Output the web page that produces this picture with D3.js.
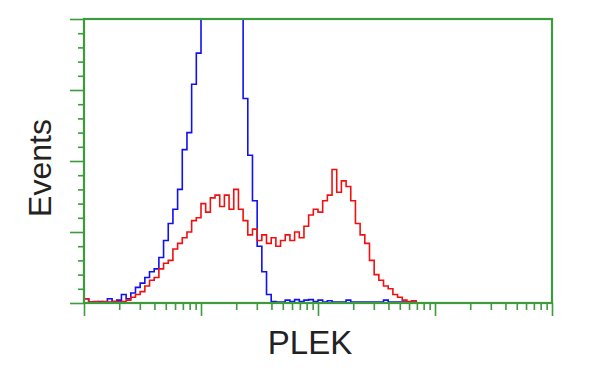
<!DOCTYPE html>
<html>
<head>
<meta charset="utf-8">
<script src="https://cdn.jsdelivr.net/npm/d3@7"></script>
<style>
  body { margin: 0; background: #fff; }
  svg { display: block; }
</style>
</head>
<body>
<div id="chart"></div>
<script>
// channel positions (log10 of fluorescence intensity)
var channels = [0.00, 0.04, 0.08, 0.12, 0.16, 0.20, 0.24, 0.28, 0.32, 0.36, 0.40, 0.44, 0.48, 0.52, 0.56, 0.60,
    0.64, 0.68, 0.72, 0.76, 0.80, 0.84, 0.88, 0.92, 0.96, 1.00, 1.04, 1.08, 1.12, 1.16, 1.20, 1.24,
    1.28, 1.32, 1.36, 1.40, 1.44, 1.48, 1.52, 1.56, 1.60, 1.64, 1.68, 1.72, 1.76, 1.80, 1.84, 1.88,
    1.92, 1.96, 2.00, 2.04, 2.08, 2.12, 2.16, 2.20, 2.24, 2.28, 2.32, 2.36, 2.40, 2.44, 2.48, 2.52,
    2.56, 2.60, 2.64, 2.68, 2.72, 2.76, 2.80, 2.84];

// isotype control (blue)
var controlCounts = [1.5, 0.3, 0.3, 0.5, 0.3, 1.5, 0.5, 1, 3, 1.5, 3.5, 5.5, 7, 9, 11, 12,
    16, 22, 28, 33, 40, 54, 60, 77, 88, 100, 115, 125, 130, 128, 122, 112,
    106, 101, 72, 52, 36, 20, 11, 3, 0.5, 0.3, 0.3, 1, 0.5, 1.2, 0.5, 1,
    1.2, 0.5, 1, 0.3, 0.8, 0.3, 0.3, 0.3, 1, 0.3, 0.3, 0.3, 0.3, 0.3, 0.3, 0.3,
    1, 0.3, 0.3, 0.3, 0.3, 0.3, 0.3, 0.3];

// PLEK stained (red)
var plekCounts = [1.5, 0.3, 0.5, 0.3, 0.5, 0.3, 0.5, 0.5, 0.5, 1, 2, 3, 4, 6, 8, 9,
    12, 14, 15, 19, 21, 23, 25, 29, 30, 35, 32, 37, 38, 34, 38, 33,
    40, 33, 29, 24, 26, 22, 24, 21, 23, 20, 22, 24, 22, 25, 23, 27,
    31, 33, 32, 36, 38, 47, 39, 43, 41, 36, 28, 24, 21, 15, 10, 8,
    6, 5, 3, 2, 1, 0.5, 0.8, 0];

var xDomain = [1, 10000];
var yDomain = [0, 100];
var xLabel = "PLEK";
var yLabel = "Events";

var width = 600, height = 375;
var margin = {top: 19, right: 48, bottom: 72, left: 84};
var green = "#3d9a3d";

var svg = d3.select("#chart").append("svg")
    .attr("width", width)
    .attr("height", height);

var x = d3.scaleLog()
    .domain(xDomain)
    .range([margin.left, width - margin.right]);

var y = d3.scaleLinear()
    .domain(yDomain)
    .range([height - margin.bottom, margin.top]);

// tick sets
var xMajor = [1, 10, 100, 1000, 10000];
var xMinor = [];
xMajor.slice(0, 4).forEach(function(d) {
    for (var k = 2; k < 10; k++) xMinor.push(d * k);
});
var yMajor = d3.range(0, 101, 25);
var yMinor = d3.range(0, 101, 5).filter(function(d) { return d % 25 !== 0; });

function styleAxis(g) {
    g.select(".domain").remove();
    g.selectAll(".tick line").attr("stroke", green).attr("stroke-width", 1.6);
}

// x axis ticks
svg.append("g")
    .attr("transform", "translate(0," + y(0) + ")")
    .call(d3.axisBottom(x).tickValues(xMinor).tickSize(7).tickFormat(""))
    .call(styleAxis);
svg.append("g")
    .attr("transform", "translate(0," + y(0) + ")")
    .call(d3.axisBottom(x).tickValues(xMajor).tickSize(13).tickFormat(""))
    .call(styleAxis);

// y axis ticks
svg.append("g")
    .attr("transform", "translate(" + x(1) + ",0)")
    .call(d3.axisLeft(y).tickValues(yMinor).tickSize(6).tickFormat(""))
    .call(styleAxis);
svg.append("g")
    .attr("transform", "translate(" + x(1) + ",0)")
    .call(d3.axisLeft(y).tickValues(yMajor).tickSize(14).tickFormat(""))
    .call(styleAxis);

// clip for histograms
svg.append("clipPath")
    .attr("id", "plotClip")
    .append("rect")
    .attr("x", x(1))
    .attr("y", y(100))
    .attr("width", x(10000) - x(1))
    .attr("height", y(0) - y(100));

var line = d3.line()
    .x(function(d) { return x(Math.pow(10, d[0])); })
    .y(function(d) { return y(d[1]); })
    .curve(d3.curveStepAfter);

var series = [
    {counts: controlCounts, color: "#1010f0"},
    {counts: plekCounts, color: "#f01010"}
];

series.forEach(function(s) {
    svg.append("path")
        .datum(channels.map(function(c, i) { return [c, s.counts[i]]; }))
        .attr("clip-path", "url(#plotClip)")
        .attr("fill", "none")
        .attr("stroke", s.color)
        .attr("stroke-width", 1.6)
        .attr("d", line);
});

// frame
var frame = svg.append("g")
    .attr("stroke", green)
    .attr("stroke-width", 2.2)
    .attr("fill", "none");
frame.append("rect")
    .attr("x", x(1))
    .attr("y", y(100))
    .attr("width", x(10000) - x(1))
    .attr("height", y(0) - y(100));

// labels
svg.append("text")
    .attr("x", 310)
    .attr("y", 354)
    .attr("text-anchor", "middle")
    .style("font-family", "'Liberation Sans', Arial, sans-serif")
    .style("font-size", "33px")
    .style("fill", "#222")
    .text(xLabel);

svg.append("text")
    .attr("transform", "translate(51,168) rotate(-90)")
    .attr("text-anchor", "middle")
    .style("font-family", "'Liberation Sans', Arial, sans-serif")
    .style("font-size", "32px")
    .style("fill", "#222")
    .text(yLabel);
</script>
</body>
</html>
